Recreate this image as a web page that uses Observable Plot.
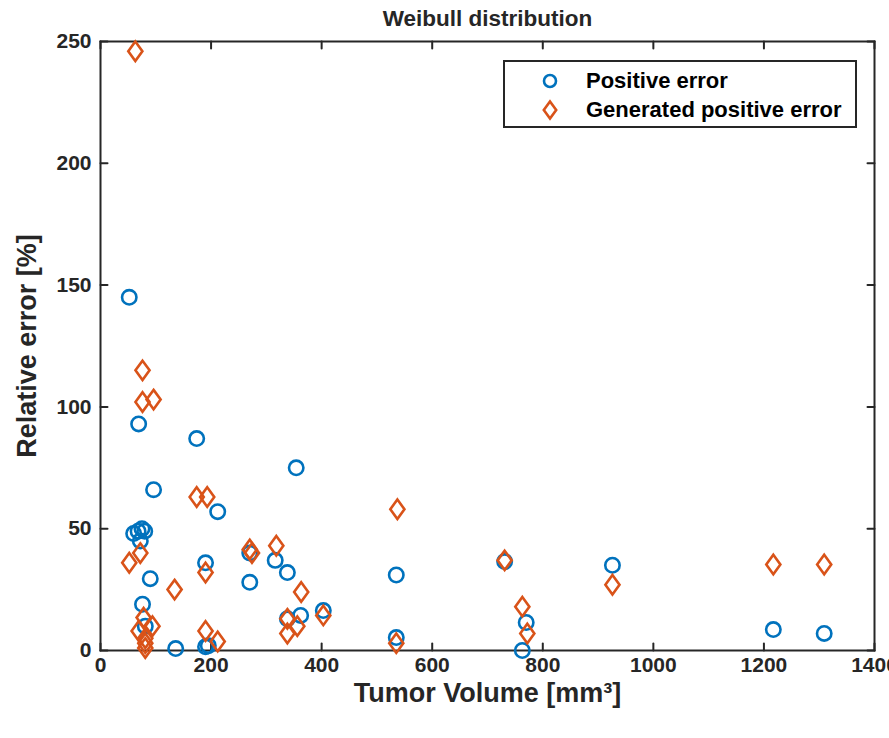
<!DOCTYPE html>
<html>
<head>
<meta charset="utf-8">
<script src="https://cdn.jsdelivr.net/npm/d3@7"></script>
<script src="https://cdn.jsdelivr.net/npm/@observablehq/plot@0.6"></script>
<style>
  html, body { margin: 0; padding: 0; background: #fff; }
  #wrap { position: relative; width: 889px; height: 738px; overflow: hidden; font-family: Arial, "Liberation Sans", sans-serif; }
  #legend { position: absolute; left: 503px; top: 60px; width: 350px; height: 64px; border: 2px solid #262626; background: #fff; box-sizing: content-box; }
  .row { position: absolute; left: 0; height: 28px; display: flex; align-items: center; font-weight: bold; font-size: 22px; color: #000; white-space: nowrap; }
  .row svg { margin-left: 36px; margin-right: 27px; }
</style>
</head>
<body>
<div id="wrap"></div>
<script>
const title = "Weibull distribution";
const xLabel = "Tumor Volume [mm³]";
const yLabel = "Relative error [%]";
const seriesNames = ["Positive error", "Generated positive error"];
const xTicks = [0, 200, 400, 600, 800, 1000, 1200, 1400];
const yTicks = [0, 50, 100, 150, 200, 250];

const posX = [52, 69, 174, 96, 354, 212, 60, 68, 75, 80, 72, 90, 76, 81, 190, 270, 270, 316, 338, 136, 190, 195, 338, 362, 403, 535, 535, 731, 770, 763, 926, 1217, 1309];
const posY = [145, 93, 87, 66, 75, 57, 48, 49, 50, 49, 45, 29.5, 19, 10, 36, 40, 28, 37, 32, 0.8, 1.5, 2, 13, 14.4, 16.4, 31, 5.3, 36.5, 11.5, 0, 35, 8.6, 7];

const genX = [63, 76, 76, 96, 174, 193, 190, 270, 274, 318, 363, 338, 356, 338, 403, 190, 212, 537, 535, 52, 72, 134, 78, 69, 94, 81, 81, 81, 731, 763, 772, 926, 1217, 1309];
const genY = [246, 115, 102, 103, 63, 63, 32, 41.5, 40, 43, 24, 13, 10, 7, 14.4, 8, 3.7, 58, 3, 36, 40, 25, 13.5, 8, 10, 5, 1, 3, 37, 18, 7, 27, 35.3, 35.3];

const blue = "#0072BD", orange = "#D95319", ink = "#262626";

const pos = posX.map((x, i) => ({x, y: posY[i]}));
const gen = genX.map((x, i) => ({x, y: genY[i]}));

const tallDiamond = {
  draw(ctx, size) {
    const r = Math.sqrt(size / Math.PI);
    const w = r * 0.98, h = r * 1.35;
    ctx.moveTo(0, -h); ctx.lineTo(w, 0); ctx.lineTo(0, h); ctx.lineTo(-w, 0); ctx.closePath();
  }
};
const tickShape = { draw(ctx, l) { ctx.moveTo(0, 0); ctx.lineTo(0, -l); } };

const font = {fontFamily: "Arial, 'Liberation Sans', sans-serif", fontWeight: "bold"};

const chart = Plot.plot({
  width: 889,
  height: 738,
  marginLeft: 100,
  marginRight: 15,
  marginTop: 41,
  marginBottom: 88,
  style: {...font, fontSize: "21px", color: ink, background: "#fff", overflow: "visible"},
  x: {domain: [0, 1400]},
  y: {domain: [0, 250]},
  marks: [
    Plot.axisX(xTicks, {tickSize: 0, tickPadding: 7, fontSize: 21, fontWeight: "bold", fill: ink, label: null, tickFormat: d3.format("d")}),
    Plot.axisY(yTicks, {tickSize: 0, tickPadding: 9, fontSize: 21, fontWeight: "bold", fill: ink, label: null, tickFormat: d3.format("d")}),
    Plot.vector(xTicks, {x: d => d, y: 0, length: 7, rotate: 0, anchor: "start", shape: tickShape, stroke: ink, strokeWidth: 2}),
    Plot.vector(xTicks, {x: d => d, y: 250, length: 7, rotate: 180, anchor: "start", shape: tickShape, stroke: ink, strokeWidth: 2}),
    Plot.vector(yTicks, {x: 0, y: d => d, length: 7, rotate: 90, anchor: "start", shape: tickShape, stroke: ink, strokeWidth: 2}),
    Plot.vector(yTicks, {x: 1400, y: d => d, length: 7, rotate: -90, anchor: "start", shape: tickShape, stroke: ink, strokeWidth: 2}),
    Plot.frame({stroke: ink, strokeWidth: 2}),
    Plot.dot(pos, {x: "x", y: "y", r: 7.2, stroke: blue, strokeWidth: 2.6, fill: "none"}),
    Plot.dot(gen, {x: "x", y: "y", r: 7.2, symbol: tallDiamond, stroke: orange, strokeWidth: 2.6, fill: "none"}),
    Plot.text([title], {frameAnchor: "top", textAnchor: "middle", lineAnchor: "middle", dy: -23, fontSize: 22.5, fontWeight: "bold", fill: ink}),
    Plot.text([xLabel], {frameAnchor: "bottom", textAnchor: "middle", lineAnchor: "middle", dy: 43, fontSize: 27, fontWeight: "bold", fill: ink}),
    Plot.text([yLabel], {frameAnchor: "left", textAnchor: "middle", lineAnchor: "middle", dx: -73, rotate: -90, fontSize: 27, fontWeight: "bold", fill: ink})
  ]
});

const wrap = document.getElementById("wrap");
wrap.appendChild(chart);

const legend = document.createElement("div");
legend.id = "legend";
const markers = [
  `<svg width="18" height="22" viewBox="-9 -11 18 22"><circle r="6" fill="none" stroke="${blue}" stroke-width="2.6"/></svg>`,
  `<svg width="18" height="22" viewBox="-9 -11 18 22"><path d="M0,-8.5L6.2,0L0,8.5L-6.2,0Z" fill="none" stroke="${orange}" stroke-width="2.6"/></svg>`
];
seriesNames.forEach((name, i) => {
  const row = document.createElement("div");
  row.className = "row";
  row.style.top = (5 + i * 29) + "px";
  row.innerHTML = markers[i] + `<span>${name}</span>`;
  legend.appendChild(row);
});
wrap.appendChild(legend);
</script>
</body>
</html>
